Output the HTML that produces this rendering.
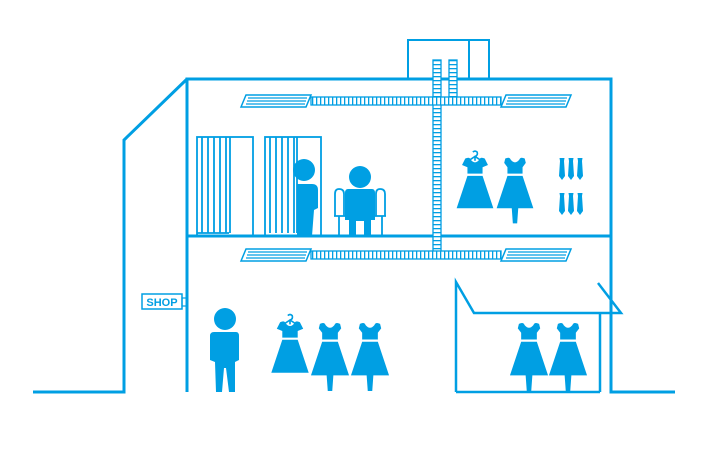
<!DOCTYPE html>
<html><head><style>html,body{margin:0;padding:0;background:#fff;width:710px;height:460px;overflow:hidden}</style></head>
<body>
<svg width="710" height="460" viewBox="0 0 710 460" xmlns="http://www.w3.org/2000/svg">
<defs>
<g id="dress">
<path d="M-9,-18 Q-5,-20 -4,-17 Q0,-12 4,-17 Q5,-20 9,-18 L10,-14 L7,-10 L7,-4 L-7,-4 L-7,-10 L-10,-14 Z" fill="#009fe3"/>
<path d="M-7,-2 L7,-2 L17,28 L3,28 L2,42 L-2,42 L-3,28 L-17,28 Z" fill="#009fe3"/>
</g>
<g id="dress2">
<path d="M-9,-18 Q-5,-20 -4,-17 Q0,-12 4,-17 Q5,-20 9,-18 L12,-12 L7,-10 L7,-4 L-7,-4 L-7,-10 L-12,-12 Z" fill="#009fe3"/>
<path d="M-7,-2 L7,-2 L17,28 L-17,28 Z" fill="#009fe3"/>
<path d="M0,-16 L0,-20 Q3,-21 2,-24 Q0,-26 -2,-24 M0,-20 L-9,-14 M0,-20 L9,-14" stroke="#009fe3" stroke-width="1.5" fill="none"/>
</g>
<g id="tie"><path d="M-2.5,0 L2.5,0 L2,3 L3,18 L0,22 L-3,18 L-2,3 Z" fill="#009fe3"/></g>
<pattern id="duct" width="4" height="6" patternUnits="userSpaceOnUse"><rect width="4" height="6" fill="#fff"/><rect x="0" y="0" width="1.3" height="6" fill="#009fe3"/></pattern>
<pattern id="ductv" width="6" height="4" patternUnits="userSpaceOnUse"><rect width="6" height="4" fill="#fff"/><rect x="0" y="0" width="6" height="1.3" fill="#009fe3"/></pattern>
<g id="vent">
<path d="M-64,6 L-59,-6 L6,-6 L1,6 Z" fill="none" stroke="#009fe3" stroke-width="1.5"/>
<path d="M-57,-3 L2,-3 M-58,0 L1,0 M-59,3 L0,3" stroke="#009fe3" stroke-width="1.3"/>
</g>
</defs>
<g fill="none" stroke="#009fe3" stroke-width="3">
<path d="M33,392 L124,392 L124,140 L187,79"/>
<path d="M187,392 L187,79 L611,79 L611,392 L675,392"/>
<path d="M187,236 L611,236"/>
<path d="M408,78 L408,40 L489,40 L489,78 M469,40 L469,78" stroke-width="2"/>
<path d="M456,392 L456,282 L474,313 L621,313 L598,283" stroke-width="2.5"/>
<path d="M456,392 L600,392 M600,313 L600,392" stroke-width="2.5"/>
</g>
<rect x="433" y="60" width="8" height="195" fill="url(#ductv)" stroke="#009fe3" stroke-width="1.3"/>
<rect x="449" y="60" width="8" height="40" fill="url(#ductv)" stroke="#009fe3" stroke-width="1.3"/>
<rect x="311" y="97" width="190" height="8" fill="url(#duct)" stroke="#009fe3" stroke-width="1.3"/>
<rect x="311" y="251" width="190" height="8" fill="url(#duct)" stroke="#009fe3" stroke-width="1.3"/>
<use href="#vent" x="305" y="101"/>
<use href="#vent" x="565" y="101"/>
<use href="#vent" x="305" y="255"/>
<use href="#vent" x="565" y="255"/>
<g fill="none" stroke="#009fe3" stroke-width="1.8">
<rect x="197" y="137" width="56" height="99"/>
<rect x="265" y="137" width="56" height="99"/>
<path d="M202,137 V233 M208,137 V233 M214,137 V233 M220,137 V233 M226,137 V233 M230,137 V233 M197,233 H229"/>
<path d="M270,137 V233 M276,137 V233 M282,137 V233 M288,137 V233 M294,137 V233 M297,137 V233"/>
<path d="M335,216 V194 Q335,189 339,189 Q344,189 344,194 V216 M376,216 V194 Q376,189 380,189 Q385,189 385,194 V216 M334,216 H386 M339,216 V236 M382,216 V236"/>
</g>
<circle cx="304" cy="170" r="11" fill="#009fe3"/>
<path d="M297,184 L312,184 Q318,184 318,190 L318,208 L314,210 L312,236 L297,236 Z" fill="#009fe3"/>
<circle cx="360" cy="177" r="11" fill="#009fe3"/>
<path d="M348,189 L372,189 Q375,189 375,193 L375,220 L371,220 L371,236 L364,236 L364,221 L356,221 L356,236 L349,236 L349,220 L345,220 L345,193 Q345,189 348,189 Z" fill="#009fe3"/>
<g transform="translate(475,178) scale(1.08)"><use href="#dress2"/></g>
<g transform="translate(515,178) scale(1.08)"><use href="#dress"/></g>
<use href="#tie" x="562" y="158"/><use href="#tie" x="571" y="158"/><use href="#tie" x="580" y="158"/>
<use href="#tie" x="562" y="193"/><use href="#tie" x="571" y="193"/><use href="#tie" x="580" y="193"/>
<rect x="142" y="294" width="40" height="15" fill="none" stroke="#009fe3" stroke-width="1.5"/>
<rect x="182" y="298" width="5" height="8" fill="none" stroke="#009fe3" stroke-width="1.2"/>
<text x="162" y="306" font-family="Liberation Sans, sans-serif" font-weight="bold" font-size="11" fill="#009fe3" text-anchor="middle">SHOP</text>
<circle cx="225" cy="319" r="11" fill="#009fe3"/>
<path d="M214,332 L236,332 Q239,332 239,336 L239,360 L235,362 L235,392 L229,392 L226,368 L224,368 L222,392 L216,392 L215,362 L210,360 L210,336 Q210,332 214,332 Z" fill="#009fe3"/>
<g transform="translate(290,342) scale(1.1)"><use href="#dress2"/></g>
<g transform="translate(330,344) scale(1.12)"><use href="#dress"/></g>
<g transform="translate(370,344) scale(1.12)"><use href="#dress"/></g>
<g transform="translate(529,344) scale(1.12)"><use href="#dress"/></g>
<g transform="translate(568,344) scale(1.12)"><use href="#dress"/></g>
</svg>
</body></html>
